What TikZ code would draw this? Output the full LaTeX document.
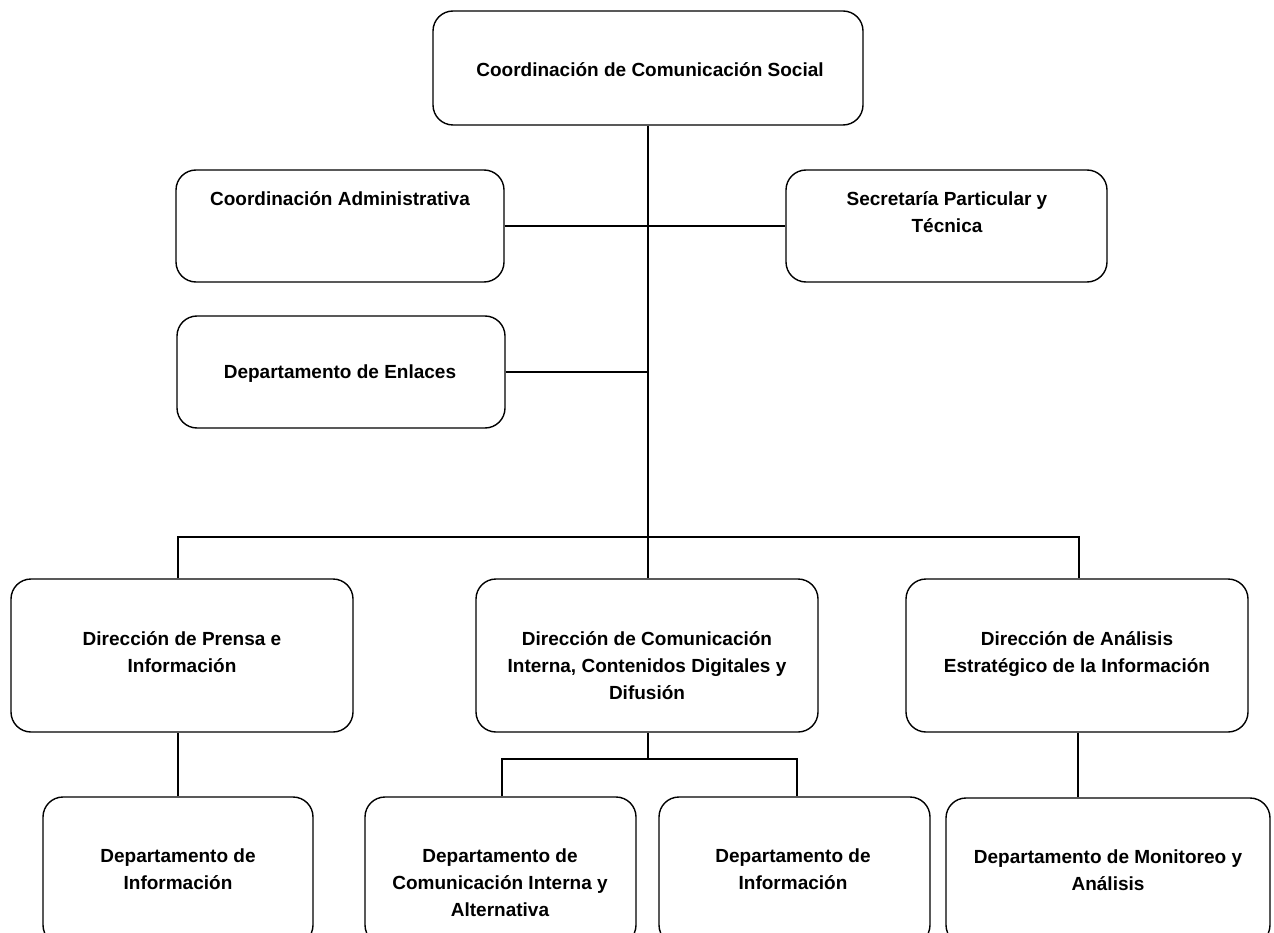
\documentclass[tikz,border=0pt]{standalone}
\usepackage{fontspec}
\setmainfont{Liberation Sans}
\newcommand{\mlines}[1]{\begin{tabular}[t]{@{}c@{}}#1\end{tabular}}
\begin{document}
\begin{tikzpicture}[x=1pt,y=-1pt,
  box/.style={draw=black, line width=1.4pt, rounded corners=20pt, inner sep=0pt},
  txt/.style={font=\fontsize{19}{27}\selectfont\bfseries, inner sep=0pt, anchor=base, align=center},
  conn/.style={draw=black, line width=1.4pt}]
\useasboundingbox (0,0) rectangle (1274,933);
\clip (0,0) rectangle (1274,933);
% boxes
\node[box, minimum width=430pt, minimum height=114pt] (top) at (648,68) {};
\node[box, minimum width=328pt, minimum height=112pt] (admin) at (340,226) {};
\node[box, minimum width=328pt, minimum height=112pt] (enl) at (341,372) {};
\node[box, minimum width=321pt, minimum height=112pt] (sec) at (946.5,226) {};
\node[box, minimum width=342pt, minimum height=153pt] (prensa) at (182,655.5) {};
\node[box, minimum width=342pt, minimum height=153pt] (dcom) at (647,655.5) {};
\node[box, minimum width=342pt, minimum height=153pt] (anal) at (1077,655.5) {};
\node[box, minimum width=270pt, minimum height=148pt] (info1) at (178,871) {};
\node[box, minimum width=271pt, minimum height=148pt] (cint) at (500.5,871) {};
\node[box, minimum width=271pt, minimum height=148pt] (info2) at (794.5,871) {};
\node[box, minimum width=324pt, minimum height=147pt] (mon) at (1108,871.5) {};
% texts
\node[txt] (t-top) at (650,77) {Coordinación de Comunicación Social};
\node[txt] (t-admin) at (340,206) {Coordinación Administrativa};
\node[txt] (t-enl) at (340,378) {Departamento de Enlaces};
\node[txt] (t-sec) at (947,206) {\mlines{Secretaría Particular y\\Técnica}};
\node[txt] (t-prensa) at (182,645) {\mlines{Dirección de Prensa e\\Información}};
\node[txt] (t-dcom) at (647,645) {\mlines{Dirección de Comunicación\\Interna, Contenidos Digitales y\\Difusión}};
\node[txt] (t-anal) at (1077,645) {\mlines{Dirección de Análisis\\Estratégico de la Información}};
\node[txt] (t-info1) at (178,862) {\mlines{Departamento de\\Información}};
\node[txt] (t-cint) at (500,862) {\mlines{Departamento de\\Comunicación Interna y\\Alternativa}};
\node[txt] (t-info2) at (793,862) {\mlines{Departamento de\\Información}};
\node[txt] (t-mon) at (1108,863) {\mlines{Departamento de Monitoreo y\\Análisis}};
% connectors
\coordinate (bus) at (648,537);
\coordinate (dbus) at (648,759);
\draw[conn] (top.south) -- (top.south |- dcom.north);
\draw[conn] (admin.east) -- (sec.west);
\draw[conn] (enl.east) -- (enl.east -| top.south);
\draw[conn] ([xshift=-4pt]prensa.north) -- ([xshift=-4pt]prensa.north |- bus) -- ([xshift=2pt]anal.north |- bus) -- ([xshift=2pt]anal.north);
\draw[conn] (info1.north) -- (info1.north |- prensa.south);
\draw[conn] (dcom.south -| top.south) -- (dbus);
\draw[conn] ([xshift=1.5pt]cint.north) -- ([xshift=1.5pt]cint.north |- dbus) -- ([xshift=2.5pt]info2.north |- dbus) -- ([xshift=2.5pt]info2.north);
\draw[conn] ([xshift=1pt]anal.south) -- ([xshift=1pt]anal.south |- mon.north);
\end{tikzpicture}
\end{document}
